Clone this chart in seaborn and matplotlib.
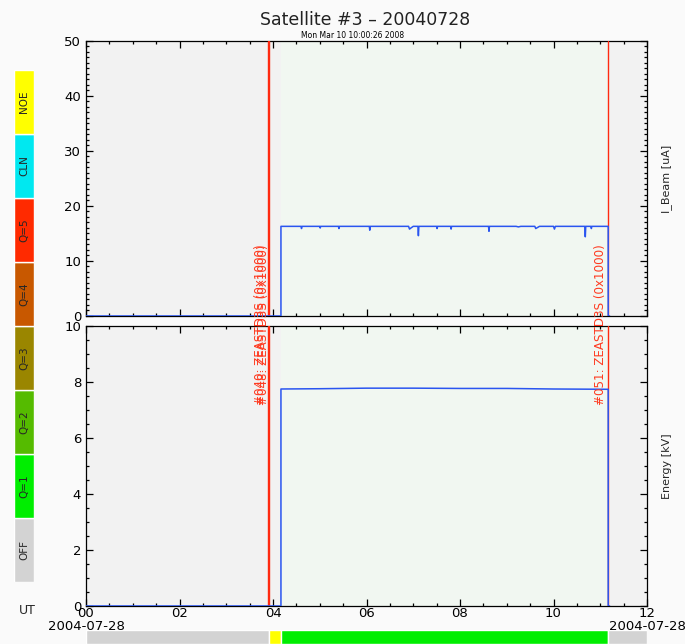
import numpy as np
import pandas as pd
import matplotlib
matplotlib.use("Agg")
import matplotlib.pyplot as plt
from matplotlib.ticker import MultipleLocator
import seaborn as sns

# ---------------- data ----------------
title = "Satellite #3 \u2013 20040728"
subtitle = "Mon Mar 10 10:00:26 2008"

beam_t = [0.0, 4.17, 4.17, 4.60, 4.61, 4.62, 5.00, 5.01, 5.02, 5.40, 5.41, 5.42, 6.06, 6.07, 6.08,
          6.90, 6.92, 6.95, 7.00, 7.10, 7.11, 7.12, 7.50, 7.51, 7.52, 7.80, 7.81, 7.82,
          8.61, 8.62, 8.63, 9.20, 9.25, 9.30, 9.60, 9.62, 9.70, 10.00, 10.02, 10.04,
          10.67, 10.68, 10.69, 10.80, 10.81, 10.82, 11.17, 11.17, 11.20]
beam_v = [0.0, 0.0, 16.3, 16.3, 15.9, 16.3, 16.3, 16.0, 16.3, 16.3, 15.9, 16.3, 16.3, 15.6, 16.3,
          16.3, 15.8, 16.0, 16.3, 16.3, 14.6, 16.3, 16.3, 15.9, 16.3, 16.3, 15.8, 16.3,
          16.3, 15.4, 16.3, 16.3, 16.2, 16.3, 16.3, 15.9, 16.3, 16.3, 15.8, 16.3,
          16.3, 14.4, 16.3, 16.3, 15.9, 16.3, 16.3, 0.0, 0.0]

energy_t = [0.0, 4.17, 4.17, 5.0, 6.0, 7.0, 8.0, 9.0, 10.0, 11.17, 11.17, 11.20]
energy_v = [0.0, 0.0, 7.75, 7.76, 7.78, 7.78, 7.77, 7.77, 7.75, 7.74, 0.0, 0.0]

event_times = [3.90, 3.92, 11.17]
event_labels = ["#040: ZEASTD3S (0x1000)", "#048: ZEASTD3S (0x1000)", "#051: ZEASTD3S (0x1000)"]

bg_starts = [0.0, 4.17, 11.17]
bg_ends = [4.17, 11.17, 12.0]
bg_colors = ["#f2f2f2", "#f1f7f1", "#f2f2f2"]

status_starts = [0.0, 3.91, 4.17, 11.17]
status_ends = [3.91, 4.17, 11.17, 12.0]
status_colors = ["#d3d3d3", "#ffff00", "#00ee00", "#d3d3d3"]

legend_labels = ["OFF", "Q=1", "Q=2", "Q=3", "Q=4", "Q=5", "CLN", "NOE"]
legend_colors = ["#d3d3d3", "#00ee00", "#55bb00", "#9a8600", "#c85800", "#ff2a00", "#00e8f0", "#ffff00"]

xticks = [0, 2, 4, 6, 8, 10, 12]
xticklabels = ["00\n2004-07-28", "02", "04", "06", "08", "10", "12\n2004-07-28"]

# ---------------- figure ----------------
sns.set_style("ticks")
plt.rcParams['font.family'] = ['DejaVu Sans']
W, H = 685, 644
fig = plt.figure(figsize=(W / 100, H / 100), dpi=100, facecolor="#fafafa")

def px(l, t, r, b):
    return [l / W, 1 - b / H, (r - l) / W, (b - t) / H]

ax1 = fig.add_axes(px(86, 41, 647, 316))
ax2 = fig.add_axes(px(86, 326, 647, 606))
line_col = "#2a55f0"

for ax in (ax1, ax2):
    for s, e, c in zip(bg_starts, bg_ends, bg_colors):
        ax.axvspan(s, e, color=c, lw=0, zorder=0)
    for t in event_times:
        ax.axvline(t, color="#ff2a10", lw=1.0, zorder=3)
    ax.set_xlim(0, 12)
    ax.xaxis.set_major_locator(MultipleLocator(2))
    ax.xaxis.set_minor_locator(MultipleLocator(0.5))
    ax.tick_params(which="both", direction="in", top=True, right=True, colors="black",
                   labelsize=9.5)
    ax.tick_params(which="major", length=5, width=0.9)
    ax.tick_params(which="minor", length=2.5, width=0.9)
    for sp in ax.spines.values():
        sp.set_color("black")
        sp.set_linewidth(0.9)

sns.lineplot(x=beam_t, y=beam_v, ax=ax1, color=line_col, lw=1.1, estimator=None, sort=False, zorder=4)
sns.lineplot(x=energy_t, y=energy_v, ax=ax2, color=line_col, lw=1.1, estimator=None, sort=False, zorder=4)

ax1.set_ylim(0, 50)
ax1.yaxis.set_major_locator(MultipleLocator(10))
ax1.yaxis.set_minor_locator(MultipleLocator(1))
ax1.set_xticklabels([])
ax1.set_xlabel("")
ax1.set_ylabel("")

ax2.set_ylim(0, 10)
ax2.yaxis.set_major_locator(MultipleLocator(2))
ax2.yaxis.set_minor_locator(MultipleLocator(0.5))
ax2.set_xticks(xticks)
ax2.set_xticklabels(xticklabels, linespacing=0.95)
ax2.tick_params(axis="x", pad=1)
ax2.set_xlabel("")
ax2.set_ylabel("")

# nudge the touching tick labels apart a little
ax1.get_yticklabels()[0].set_va("bottom")
ax2.get_yticklabels()[-1].set_va("top")

ax1.text(1.035, 0.5, "I_Beam [uA]", transform=ax1.transAxes, rotation=90,
         ha="center", va="center", fontsize=8)
ax2.text(1.035, 0.5, "Energy [kV]", transform=ax2.transAxes, rotation=90,
         ha="center", va="center", fontsize=8)

offsets = [-0.16, -0.13, -0.16]
for t, lab, off in zip(event_times, event_labels, offsets):
    ax2.text(t + off, 7.18, lab, rotation=90, ha="center", va="bottom", color="#ff3a20",
             fontsize=8.6, clip_on=False, zorder=5)

fig.text(365 / W, 1 - 20 / H, title, ha="center", va="center", fontsize=12.5, color="#222222")
fig.text(353 / W, 1 - 36 / H, subtitle, ha="center", va="center", fontsize=5.5, color="black")
fig.text(27 / W, 1 - 610 / H, "UT", ha="center", va="center", fontsize=9)

# left legend bar
axl = fig.add_axes(px(14, 70, 34, 582))
axl.barh(y=np.arange(len(legend_labels)), width=1, height=1, left=0, color=legend_colors, align="edge")
axl.set_xlim(0, 1)
axl.set_ylim(0, len(legend_labels))
for i, lab in enumerate(legend_labels):
    axl.text(0.5, i + 0.5, lab, rotation=90, ha="center", va="center", fontsize=7.5)
axl.axis("off")

# bottom status bar
axs = fig.add_axes(px(86, 630, 647, 644))
axs.barh(y=[0] * len(status_starts), width=np.array(status_ends) - np.array(status_starts),
         left=status_starts, height=1, color=status_colors, align="edge")
axs.set_xlim(0, 12)
axs.set_ylim(0, 1)
axs.axis("off")

fig.savefig("out.png", dpi=100, facecolor=fig.get_facecolor())
